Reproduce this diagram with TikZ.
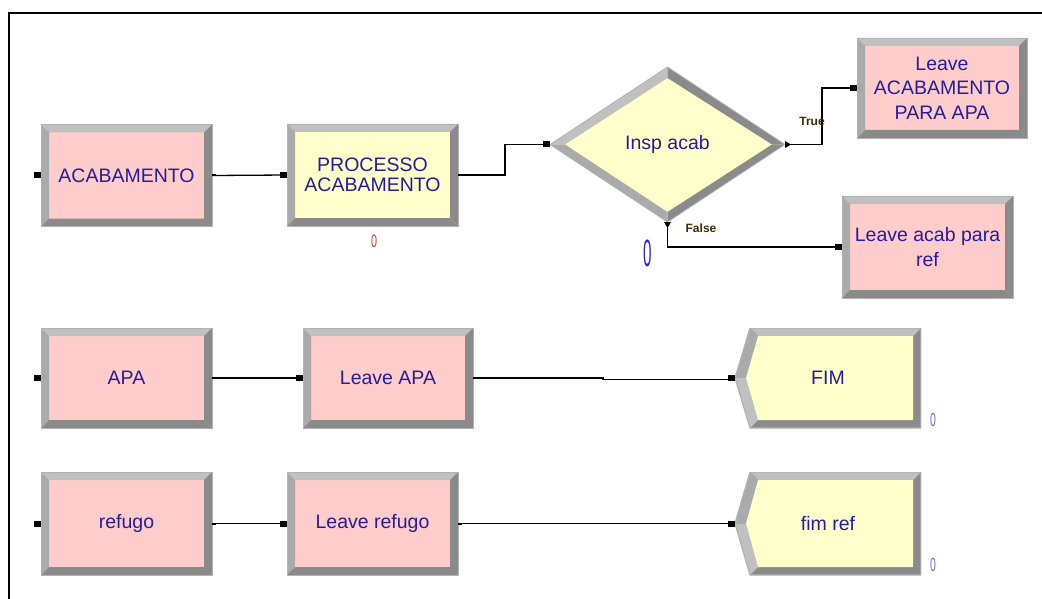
\documentclass[tikz,border=0pt]{standalone}
\usepackage{fontspec}
\setmainfont{Liberation Sans}
\usetikzlibrary{shapes.geometric,calc}
\definecolor{pinkc}{RGB}{255,204,204}
\definecolor{yelc}{RGB}{255,255,204}
\definecolor{txtc}{RGB}{38,28,150}
\definecolor{bevlt}{RGB}{192,192,192}
\definecolor{bevmd}{RGB}{170,170,170}
\definecolor{bevdk}{RGB}{138,138,138}
\definecolor{rimc}{RGB}{178,178,178}
\definecolor{brownc}{RGB}{176,80,48}
\definecolor{bluec}{RGB}{40,40,200}
\definecolor{lblc}{RGB}{60,45,10}
\newcommand\inport[1]{\fill ([shift={(-7pt,-3pt)}]#1.west) rectangle ([shift={(0pt,3pt)}]#1.west);}
\newcommand\outport[1]{\fill ([shift={(0pt,-1pt)}]#1.east) rectangle ([shift={(4pt,1pt)}]#1.east);}
\tikzset{
  mainfont/.style={font=\fontsize{19.5}{24.5}\selectfont},
  modbox/.style={rectangle, draw=rimc, line width=0.8pt, minimum width=171pt,
    minimum height=102pt, inner sep=0pt, outer sep=0pt, text=txtc, align=center, mainfont,
    path picture={
      \coordinate (pNW) at (path picture bounding box.north west);
      \coordinate (pNE) at (path picture bounding box.north east);
      \coordinate (pSW) at (path picture bounding box.south west);
      \coordinate (pSE) at (path picture bounding box.south east);
      \fill[bevlt] (pNW) -- (pNE) -- ([shift={(-8pt,-8pt)}]pNE) -- ([shift={(8pt,-8pt)}]pNW) -- cycle;
      \fill[bevmd] (pNW) -- ([shift={(8pt,-8pt)}]pNW) -- ([shift={(8pt,8pt)}]pSW) -- (pSW) -- cycle;
      \fill[bevdk] (pNE) -- (pSE) -- ([shift={(-8pt,8pt)}]pSE) -- ([shift={(-8pt,-8pt)}]pNE) -- cycle;
      \fill[bevdk] (pSW) -- (pSE) -- ([shift={(-8pt,8pt)}]pSE) -- ([shift={(8pt,8pt)}]pSW) -- cycle;
    }},
  pinkbox/.style={modbox, fill=pinkc},
  yelbox/.style={modbox, fill=yelc},
  decide/.style={diamond, fill=yelc, draw=rimc, line width=0.8pt, minimum width=235pt,
    minimum height=155pt, inner sep=0pt, outer sep=0pt, text=txtc, mainfont,
    path picture={
      \coordinate (pW) at (path picture bounding box.west);
      \coordinate (pN) at (path picture bounding box.north);
      \coordinate (pE) at (path picture bounding box.east);
      \coordinate (pS) at (path picture bounding box.south);
      \fill[bevlt] (pW) -- (pN) -- ([yshift=-11pt]pN) -- ([xshift=15pt]pW) -- cycle;
      \fill[bevdk] (pN) -- (pE) -- ([xshift=-13pt]pE) -- ([yshift=-11pt]pN) -- cycle;
      \fill[bevdk] (pE) -- (pS) -- ([yshift=10pt]pS) -- ([xshift=-13pt]pE) -- cycle;
      \fill[bevmd] (pS) -- (pW) -- ([xshift=15pt]pW) -- ([yshift=10pt]pS) -- cycle;
    }},
  disposebox/.style={rectangle, fill=white, draw=none, minimum width=186pt,
    minimum height=102pt, inner sep=0pt, outer sep=0pt, text=txtc, mainfont,
    path picture={
      \coordinate (pNW) at (path picture bounding box.north west);
      \coordinate (pNE) at (path picture bounding box.north east);
      \coordinate (pSW) at (path picture bounding box.south west);
      \coordinate (pSE) at (path picture bounding box.south east);
      \coordinate (pW) at (path picture bounding box.west);
      \fill[bevdk] ([xshift=15pt]pNW) -- (pNE) -- (pSE) -- ([xshift=15pt]pSW) -- (pW) -- cycle;
      \fill[bevlt] ([xshift=15pt]pNW) -- (pNE) -- ([shift={(-8pt,-8pt)}]pNE) -- ([shift={(23pt,-8pt)}]pNW) -- cycle;
      \fill[bevmd] (pW) -- ([xshift=15pt]pNW) -- ([shift={(23pt,-8pt)}]pNW) -- ([xshift=11pt]pW) -- cycle;
      \fill[bevlt] (pW) -- ([xshift=11pt]pW) -- ([shift={(23pt,8pt)}]pSW) -- ([xshift=15pt]pSW) -- cycle;
      \fill[yelc] ([xshift=11pt]pW) -- ([shift={(23pt,-8pt)}]pNW) -- ([shift={(-8pt,-8pt)}]pNE) -- ([shift={(-8pt,8pt)}]pSE) -- ([shift={(23pt,8pt)}]pSW) -- cycle;
      \draw[rimc, line width=1.2pt] ([xshift=15pt]pNW) -- (pNE) -- (pSE) -- ([xshift=15pt]pSW) -- (pW) -- cycle;
    }},
  conn/.style={line width=1.3pt, black},
  lbl/.style={font=\bfseries\fontsize{12}{12}\selectfont, text=lblc, inner sep=0pt},
}
\begin{document}
\begin{tikzpicture}[x=1pt, y=-1pt]
\useasboundingbox (0,0) rectangle (1042,599);
\draw[line width=2pt] (9,599) -- (9,13) -- (1042,13);

% row 1
\node[pinkbox] (acab) at (126.5,175.5) {ACABAMENTO};
\node[yelbox, font=\fontsize{19.5}{19.5}\selectfont] (proc) at (372.5,175) {PROCESSO\\ACABAMENTO};
\node[decide] (insp) at (667.5,144.5) {Insp acab};
\node[pinkbox, minimum width=170pt, minimum height=100pt] (leave1) at (942,88) {Leave\\ACABAMENTO\\PARA APA};
\node[pinkbox] (leave2) at (927.5,247) {Leave acab para\\ref};

% row 2
\node[pinkbox, minimum height=100pt] (apa) at (126.5,378) {APA};
\node[pinkbox, minimum width=170pt, minimum height=100pt] (lapa) at (388,378) {Leave APA};
\node[disposebox, minimum height=100pt] (fim) at (828,378) {FIM};

% row 3
\node[pinkbox, minimum height=103pt] (ref) at (126.5,523.5) {refugo};
\node[pinkbox, minimum height=103pt] (lref) at (372.5,523.5) {Leave refugo};
\node[disposebox, minimum height=103pt] (fimref) at (828,523.5) {fim ref};

% connectors
\draw[conn] (acab.east) -- (proc.west);
\draw[conn] (proc.east) -- ++(47,0) |- (insp.west);
\draw[conn] (insp.east) -- ++(37,0) |- (leave1.west);
\draw[conn] (insp.south) |- (leave2.west);
\draw[conn] (apa.east) -- (lapa.west);
\draw[conn] (lapa.east) -- ++(130,0) -- ++(0,1.5) -- ([yshift=-1.5pt]fim.west);
\draw[conn] (ref.east) -- (lref.west);
\draw[conn] (lref.east) -- (fimref.west);

% ports
\foreach \n in {acab,proc,insp,leave1,leave2,apa,lapa,fim,ref,lref,fimref} {\inport{\n}}
\foreach \n in {acab,proc,apa,lapa,ref,lref} {\outport{\n}}
\fill ([yshift=3.5pt]insp.east) -- ([xshift=6pt]insp.east) -- ([yshift=-3.5pt]insp.east) -- cycle;
\fill ([xshift=-3.5pt]insp.south) -- ([yshift=-6pt]insp.south) -- ([xshift=3.5pt]insp.south) -- cycle;

% labels
\node[lbl] (truel) at (812,121) {True};
\node[lbl] (falsel) at (701,228) {False};
\node[text=brownc, font=\fontsize{18}{18}\selectfont, inner sep=0pt] (cnt1) at (374,241) {\scalebox{0.6}[1]{0}};
\node[text=bluec, font=\fontsize{38}{38}\selectfont, inner sep=0pt] (cnt2) at (648,253) {\scalebox{0.4}[1]{0}};
\node[text=bluec!70, font=\fontsize{19}{19}\selectfont, inner sep=0pt] (cnt3) at (933,420) {\scalebox{0.55}[1]{0}};
\node[text=bluec!70, font=\fontsize{19}{19}\selectfont, inner sep=0pt] (cnt4) at (933,565) {\scalebox{0.55}[1]{0}};
\end{tikzpicture}
\end{document}
